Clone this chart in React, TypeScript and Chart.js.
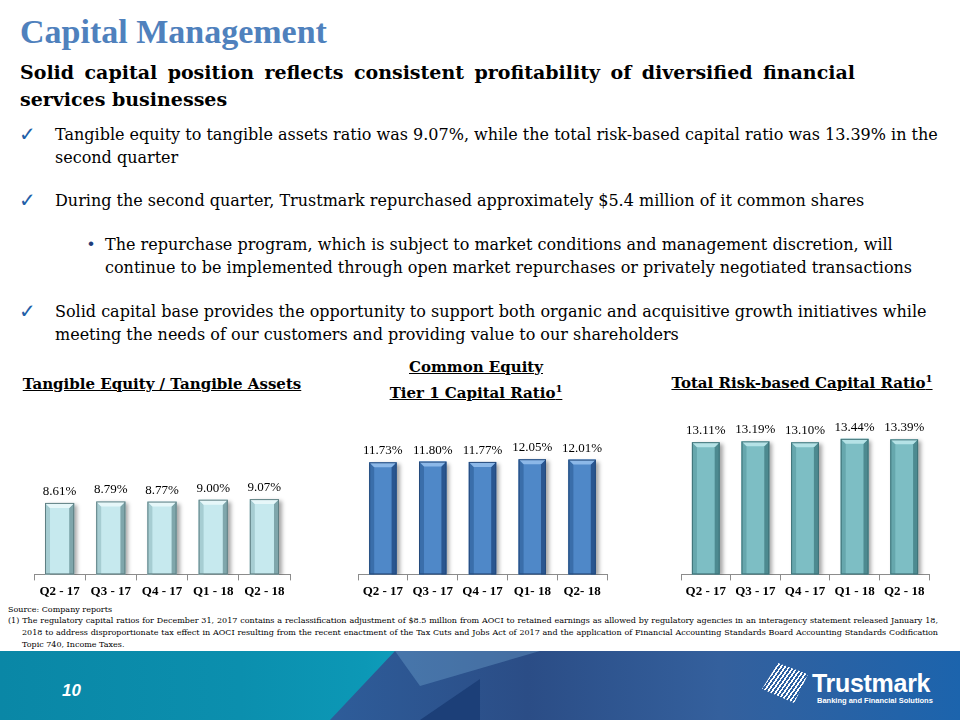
import React, { useEffect, useRef } from "react";
import { Chart, registerables } from "chart.js";
Chart.register(...registerables);

// ---------- data ----------
const tangibleLabels = ["Q2 - 17", "Q3 - 17", "Q4 - 17", "Q1 - 18", "Q2 - 18"];
const tangibleValues = [8.61, 8.79, 8.77, 9.0, 9.07];
const cet1Labels = ["Q2 - 17", "Q3 - 17", "Q4 - 17", "Q1- 18", "Q2- 18"];
const cet1Values = [11.73, 11.8, 11.77, 12.05, 12.01];
const totalLabels = ["Q2 - 17", "Q3 - 17", "Q4 - 17", "Q1 - 18", "Q2 - 18"];
const totalValues = [13.11, 13.19, 13.1, 13.44, 13.39];

const SERIF = "'Liberation Serif', 'Times New Roman', serif";
const BODY = "'DejaVu Serif', serif";
const SANS = "'Liberation Sans', Arial, sans-serif";

const bevelPlugin = {
  id: "bevel",
  beforeDatasetsDraw(chart: any) {
    const ctx = chart.ctx;
    ctx.save();
    ctx.shadowColor = "rgba(0,0,0,0.35)";
    ctx.shadowOffsetX = 3;
    ctx.shadowOffsetY = 2;
    ctx.shadowBlur = 4;
  },
  afterDatasetsDraw(chart: any, _args: any, opts: any) {
    const ctx = chart.ctx;
    ctx.restore();
    const meta = chart.getDatasetMeta(0);
    const values = chart.data.datasets[0].data as number[];
    const b = 5;
    meta.data.forEach((bar: any, i: number) => {
      const p = bar.getProps(["x", "y", "base", "width"], true);
      const x0 = p.x - p.width / 2;
      const x1 = p.x + p.width / 2;
      const y0 = p.y;
      const y1 = p.base;
      ctx.save();
      const poly = (pts: number[][], color: string) => {
        ctx.beginPath();
        ctx.moveTo(pts[0][0], pts[0][1]);
        for (let k = 1; k < pts.length; k++) ctx.lineTo(pts[k][0], pts[k][1]);
        ctx.closePath();
        ctx.fillStyle = color;
        ctx.fill();
      };
      poly([[x0, y0], [x0 + b, y0 + b], [x0 + b, y1], [x0, y1]], opts.mid);
      poly([[x1, y0], [x1, y1], [x1 - b, y1], [x1 - b, y0 + b]], opts.dark);
      poly([[x0, y0], [x1, y0], [x1 - b, y0 + b], [x0 + b, y0 + b]], opts.light);
      ctx.strokeStyle = opts.edge;
      ctx.lineWidth = 1;
      ctx.strokeRect(x0 + 0.5, y0 + 0.5, x1 - x0 - 1, y1 - y0 - 1);
      ctx.fillStyle = "#000";
      ctx.font = `13px ${SERIF}`;
      ctx.textAlign = "center";
      ctx.textBaseline = "bottom";
      ctx.fillText(values[i].toFixed(2) + "%", p.x, y0 - 5);
      ctx.restore();
    });
  },
};

function BarChart(props: any) {
  const ref = useRef<HTMLCanvasElement | null>(null);
  useEffect(() => {
    if (!ref.current) return;
    const chart = new Chart(ref.current, {
      type: "bar",
      data: {
        labels: props.labels,
        datasets: [
          {
            data: props.values,
            backgroundColor: props.palette.body,
            borderWidth: 0,
            barPercentage: props.barPct,
            categoryPercentage: 1,
          },
        ],
      },
      plugins: [bevelPlugin as any],
      options: {
        animation: false,
        responsive: false,
        maintainAspectRatio: false,
        layout: { padding: { left: 10, right: 10, top: 0, bottom: 0 } },
        plugins: {
          legend: { display: false },
          tooltip: { enabled: false },
          title: { display: false },
          bevel: props.palette,
        } as any,
        scales: {
          y: { display: false, min: 0, max: props.max },
          x: {
            offset: true,
            border: { display: true, color: "#8c8c8c", width: 1 },
            grid: {
              display: true,
              offset: true,
              drawOnChartArea: false,
              drawTicks: true,
              tickLength: 6,
              color: "#8c8c8c",
            },
            ticks: {
              color: "#000",
              padding: 3,
              font: { family: SERIF, size: 13, weight: "bold" },
              maxRotation: 0,
            },
          },
        },
      },
    });
    return () => chart.destroy();
  }, []);
  return <canvas ref={ref} width={props.w} height={props.h} />;
}

function Line(props: {
  x: number;
  y: number;
  w?: number;
  justify?: boolean;
  size: number;
  lh: number;
  style?: React.CSSProperties;
  children: React.ReactNode;
}) {
  return (
    <div
      style={{
        position: "absolute",
        left: props.x,
        top: props.y - props.lh / 2,
        width: props.w,
        fontSize: props.size,
        lineHeight: props.lh + "px",
        height: props.lh,
        fontFamily: BODY,
        whiteSpace: props.justify ? "normal" : "nowrap",
        textAlign: props.justify ? "justify" : "left",
        textAlignLast: props.justify ? "justify" : "auto",
        ...props.style,
      }}
    >
      {props.children}
    </div>
  );
}

const Check = (p: { y: number }) => (
  <div
    style={{
      position: "absolute",
      left: 19,
      top: p.y - 12,
      fontFamily: "'DejaVu Sans', sans-serif",
      fontSize: 20,
      lineHeight: "24px",
      color: "#1f5fa8",
    }}
  >
    ✓
  </div>
);

const band: React.CSSProperties = { position: "absolute", left: 0, top: 651, width: 960, height: 69 };

export default function App() {
  const body = 16;
  const lh = 23;
  const chartTitle: React.CSSProperties = {
    position: "absolute",
    fontFamily: BODY,
    fontWeight: "bold",
    fontSize: 15,
    textDecoration: "underline",
    textAlign: "center",
    lineHeight: "26px",
    whiteSpace: "nowrap",
  };
  return (
    <div
      style={{
        position: "absolute",
        left: 0,
        top: 0,
        width: 960,
        height: 720,
        overflow: "hidden",
        background: "#fff",
        color: "#000",
      }}
    >
      <div
        style={{
          position: "absolute",
          left: 20,
          top: 12,
          fontFamily: SERIF,
          fontWeight: "bold",
          fontSize: 34,
          lineHeight: "40px",
          color: "#4f81bd",
          whiteSpace: "nowrap",
        }}
      >
        Capital Management
      </div>
      <Line x={20} y={72} w={835} justify size={19} lh={27} style={{ fontWeight: "bold" }}>
        Solid capital position reflects consistent profitability of diversified financial
      </Line>
      <Line x={20} y={99} size={19} lh={27} style={{ fontWeight: "bold" }}>
        services businesses
      </Line>

      <Check y={134} />
      <Line x={55} y={134} size={body} lh={lh}>
        Tangible equity to tangible assets ratio was 9.07%, while the total risk-based capital ratio was 13.39% in the
      </Line>
      <Line x={55} y={157} size={body} lh={lh}>
        second quarter
      </Line>
      <Check y={200} />
      <Line x={55} y={200} size={body} lh={lh}>
        During the second quarter, Trustmark repurchased approximately $5.4 million of it common shares
      </Line>
      <div
        style={{
          position: "absolute",
          left: 88,
          top: 244 - 12,
          fontFamily: SANS,
          fontSize: 17,
          lineHeight: "24px",
          color: "#1f3d7a",
        }}
      >
        •
      </div>
      <Line x={105} y={244} size={body} lh={lh}>
        The repurchase program, which is subject to market conditions and management discretion, will
      </Line>
      <Line x={105} y={267} size={body} lh={lh}>
        continue to be implemented through open market repurchases or privately negotiated transactions
      </Line>
      <Check y={311} />
      <Line x={55} y={311} size={body} lh={lh}>
        Solid capital base provides the opportunity to support both organic and acquisitive growth initiatives while
      </Line>
      <Line x={55} y={334} size={body} lh={lh}>
        meeting the needs of our customers and providing value to our shareholders
      </Line>

      {/* chart titles */}
      <div style={{ ...chartTitle, left: 12, width: 300, top: 371 }}>Tangible Equity / Tangible Assets</div>
      <div style={{ ...chartTitle, left: 326, width: 300, top: 354 }}>Common Equity</div>
      <div style={{ ...chartTitle, left: 326, width: 300, top: 380 }}>
        Tier 1 Capital Ratio<sup style={{ fontSize: 10, lineHeight: 0 }}>1</sup>
      </div>
      <div style={{ ...chartTitle, left: 652, width: 300, top: 370 }}>
        Total Risk-based Capital Ratio<sup style={{ fontSize: 10, lineHeight: 0 }}>1</sup>
      </div>

      {/* charts */}
      <div style={{ position: "absolute", left: 24, top: 410 }}>
        <BarChart
          labels={tangibleLabels}
          values={tangibleValues}
          max={19.8}
          barPct={0.57}
          w={276}
          h={192}
          palette={{ body: "#c6e9ee", light: "#e6f7f9", dark: "#7fa6ab", mid: "#a6cdd2", edge: "#5f7f83" }}
        />
      </div>
      <div style={{ position: "absolute", left: 348, top: 410 }}>
        <BarChart
          labels={cet1Labels}
          values={cet1Values}
          max={17.2}
          barPct={0.55}
          w={269}
          h={192}
          palette={{ body: "#4f88c8", light: "#8cb8e8", dark: "#2a5690", mid: "#3a6eaa", edge: "#244a7c" }}
        />
      </div>
      <div style={{ position: "absolute", left: 671, top: 410 }}>
        <BarChart
          labels={totalLabels}
          values={totalValues}
          max={16.3}
          barPct={0.56}
          w={268}
          h={192}
          palette={{ body: "#7dbec4", light: "#b5e2e6", dark: "#4d8a90", mid: "#66a7ad", edge: "#3f7278" }}
        />
      </div>

      {/* footnotes */}
      <Line x={8} y={609} size={8} lh={11}>
        Source: Company reports
      </Line>
      <Line x={8} y={620} w={930} justify size={8} lh={11}>
        (1) The regulatory capital ratios for December 31, 2017 contains a reclassification adjustment of $8.5 million from AOCI to retained earnings as allowed by regulatory agencies in an interagency statement released January 18,
      </Line>
      <Line x={22} y={632} w={916} justify size={8} lh={11}>
        2018 to address disproportionate tax effect in AOCI resulting from the recent enactment of the Tax Cuts and Jobs Act of 2017 and the application of Financial Accounting Standards Board Accounting Standards Codification
      </Line>
      <Line x={22} y={644} size={8} lh={11}>
        Topic 740, Income Taxes.
      </Line>

      {/* bottom band */}
      <div style={{ ...band, background: "linear-gradient(90deg, #0a87a6 0%, #0b8fae 25%, #0c98b6 38%, #12a2bf 45%)" }} />
      <div
        style={{
          ...band,
          background: "linear-gradient(90deg, #2e5c99 35%, #2b4d86 55%, #34609d 75%, #1c64ad 100%)",
          clipPath: "polygon(395px 0, 960px 0, 960px 69px, 330px 69px)",
        }}
      />
      <div style={{ ...band, background: "#1c3f78", clipPath: "polygon(480px 28px, 480px 69px, 420px 69px)" }} />
      <div
        style={{
          ...band,
          background: "rgba(120,175,215,0.35)",
          clipPath: "polygon(395px 0, 540px 0, 420px 35px)",
        }}
      />
      <div
        style={{
          position: "absolute",
          left: 62,
          top: 680,
          fontFamily: SANS,
          fontWeight: "bold",
          fontStyle: "italic",
          fontSize: 17,
          lineHeight: "22px",
          color: "#fff",
        }}
      >
        10
      </div>
      {/* logo */}
      <div
        style={{
          position: "absolute",
          left: 762,
          top: 663,
          width: 46,
          height: 40,
          background:
            "repeating-linear-gradient(125deg, #ffffff 0px, #ffffff 1.6px, transparent 1.6px, transparent 3.4px)",
          clipPath: "polygon(35% 0, 100% 28%, 70% 100%, 0 65%)",
        }}
      />
      <div
        style={{
          position: "absolute",
          left: 812,
          top: 670,
          fontFamily: SANS,
          fontWeight: "bold",
          fontSize: 25,
          lineHeight: "27px",
          color: "#fff",
          letterSpacing: -0.3,
        }}
      >
        Trustmark
      </div>
      <div
        style={{
          position: "absolute",
          left: 817,
          top: 696,
          fontFamily: SANS,
          fontWeight: "bold",
          fontSize: 7.5,
          lineHeight: "10px",
          color: "#fff",
          whiteSpace: "nowrap",
        }}
      >
        Banking and Financial Solutions
      </div>
    </div>
  );
}
